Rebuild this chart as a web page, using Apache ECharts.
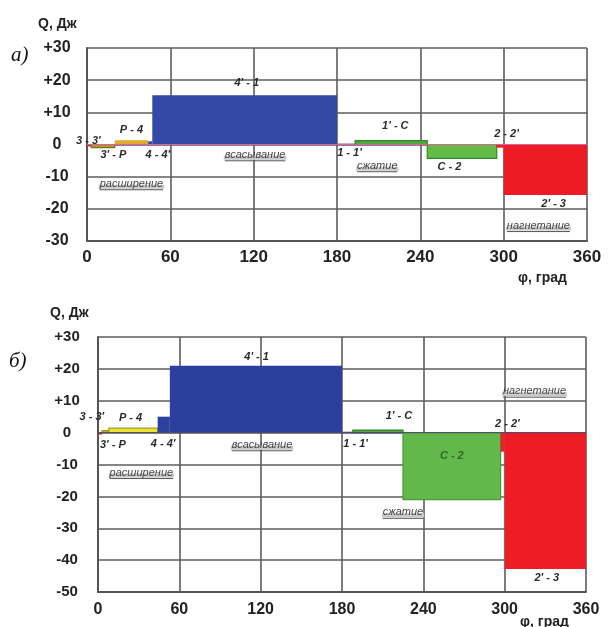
<!DOCTYPE html>
<html><head><meta charset="utf-8">
<script src="https://cdn.jsdelivr.net/npm/echarts@6/dist/echarts.min.js"></script>
<style>html,body{margin:0;padding:0;background:#fff}#c{width:611px;height:627px}</style>
</head><body><div id="c"></div>
<script>
// ---- data ----
const segNames = ["3-3'", "3'-P", "P-4", "4-4'", "4'-1", "1-1'", "1'-C", "C-2", "2-2'", "2'-3"];
const xTicks = [0, 60, 120, 180, 240, 300, 360];
const yTicksA = [-30, -20, -10, 0, 10, 20, 30];
const yTicksB = [-50, -40, -30, -20, -10, 0, 10, 20, 30];
// chart а)
const aStart = [0, 3, 20, 44, 47, 180, 193, 245, 295, 300];
const aEnd   = [3, 20, 44, 47, 180, 193, 245, 295, 300, 360];
const aValue = [-0.6, -1.0, 1.3, 1.0, 15.3, 0.3, 1.2, -4.3, -1.0, -15.7];
// chart б)
const bStart = [0, 3, 8, 44, 53, 180, 188, 225, 297, 300];
const bEnd   = [3, 8, 44, 53, 180, 188, 225, 297, 300, 360];
const bValue = [-0.6, 0.6, 1.4, 5.0, 21.0, 0.3, 0.8, -21.0, -6.0, -42.8];

// ---- styles ----
const colA = {"3-3'":'#c02a2e',"3'-P":'#a99b2c',"P-4":'#e3a92a',"4-4'":'#3849a2',"4'-1":'#3449a3',"1-1'":'#8d4f9c',"1'-C":'#4ea83e',"C-2":'#64bb48',"2-2'":'#e9232a',"2'-3":'#ed1c24'};
const colB = {"3-3'":'#b0302e',"3'-P":'#c9b52a',"P-4":'#ece236',"4-4'":'#2d419e',"4'-1":'#2b3f9c',"1-1'":'#6a5a9a',"1'-C":'#4ea83e',"C-2":'#62b84a',"2-2'":'#e8242a',"2'-3":'#ee1d25'};
const strokeA = {"C-2":'#2f8a2a',"1'-C":'#2f8a2a',"3'-P":'#7d7020'};
const strokeB = {"C-2":'#4a9a3a',"1'-C":'#3a7a30',"3'-P":'#9a8a20',"P-4":'#a09a20'};

// annotation layout (data coords)
const annA = [
 {t:"3 - 3'", x:1, y:1.1, k:'s'}, {t:"P - 4", x:32, y:4.4, k:'s'}, {t:"3' - P", x:19, y:-3.2, k:'s'},
 {t:"4 - 4'", x:51, y:-3.2, k:'s'}, {t:"4' - 1", x:115, y:19, k:'s'}, {t:"всасывание", x:121, y:-3.2, k:'w'},
 {t:"расширение", x:32, y:-12.2, k:'w'}, {t:"1 - 1'", x:189, y:-2.6, k:'s'}, {t:"1' - C", x:222, y:5.9, k:'s'},
 {t:"сжатие", x:209, y:-6.6, k:'w'}, {t:"C - 2", x:261, y:-6.9, k:'s'}, {t:"2 - 2'", x:302, y:3.4, k:'s'},
 {t:"2' - 3", x:336, y:-18.4, k:'s'}, {t:"нагнетание", x:325, y:-25.2, k:'w'}
];
const annB = [
 {t:"3 - 3'", x:-4.5, y:5, k:'s'}, {t:"P - 4", x:24, y:4.7, k:'s'}, {t:"3' - P", x:11, y:-4, k:'s'},
 {t:"4 - 4'", x:48, y:-3.5, k:'s'}, {t:"4' - 1", x:117, y:23.8, k:'s'}, {t:"всасывание", x:121, y:-3.8, k:'w'},
 {t:"расширение", x:32, y:-12.5, k:'w'}, {t:"1 - 1'", x:190, y:-3.5, k:'s'}, {t:"1' - C", x:222, y:5.3, k:'s'},
 {t:"2 - 2'", x:302, y:2.8, k:'s'}, {t:"нагнетание", x:322, y:13, k:'w'}, {t:"C - 2", x:261, y:-7.2, k:'s', c:'#2d6a2a'},
 {t:"сжатие", x:225, y:-25, k:'w'}, {t:"2' - 3", x:331, y:-45.5, k:'s'}
];

const cv = document.createElement('canvas').getContext('2d');
function textW(t, font){ cv.font = font; return cv.measureText(t).width; }

function barSeries(idx, starts, ends, values, cols, strokes){
  return {
    type:'custom', xAxisIndex:idx, yAxisIndex:idx, z:3,
    data: segNames.map((n,i)=>[starts[i], ends[i], values[i], i]),
    renderItem:(p, api)=>{
      const s=api.value(0), e=api.value(1), v=api.value(2), name=segNames[api.value(3)];
      const a=api.coord([s,v]), b=api.coord([e,0]);
      const st = strokes[name];
      return {type:'rect', shape:{x:a[0], y:Math.min(a[1],b[1]), width:b[0]-a[0], height:Math.max(1.5,Math.abs(b[1]-a[1]))},
        style:{fill:cols[name], stroke: st||null, lineWidth: st?1.2:0}};
    }
  };
}
function annSeries(idx, ann){
  return {
    type:'custom', xAxisIndex:idx, yAxisIndex:idx, z:5, clip:false,
    data: ann.map((a,i)=>[a.x, a.y, i]),
    renderItem:(p, api)=>{
      const a = ann[api.value(2)];
      const pt = api.coord([api.value(0), api.value(1)]);
      if (a.k === 's') {
        return {type:'text', x:pt[0], y:pt[1], style:{text:a.t, fill:a.c||'#2a2a2a', font:'italic bold 11px "Liberation Sans", Arial', align:'center', verticalAlign:'middle'}};
      }
      const font = 'italic 11px "Liberation Sans", Arial';
      const w = textW(a.t, font);
      return {type:'group', children:[
        {type:'rect', shape:{x:pt[0]-w/2-1, y:pt[1]+1, width:w+2, height:4}, style:{fill:'#c8c8c8'}},
        {type:'line', shape:{x1:pt[0]-w/2, y1:pt[1]+6, x2:pt[0]+w/2, y2:pt[1]+6}, style:{stroke:'#555', lineWidth:1}},
        {type:'text', x:pt[0], y:pt[1], style:{text:a.t, fill:'#444', font:font, align:'center', verticalAlign:'middle'}}
      ]};
    }
  };
}
function zeroLine(idx, color){
  return {type:'line', xAxisIndex:idx, yAxisIndex:idx, z:4, symbol:'none', silent:true,
    data:[[xTicks[0],0],[xTicks[xTicks.length-1],0]], lineStyle:{color:color, width:1}};
}
const fmtY = v => v>0 ? '+'+v : String(v);
function xAx(idx, fs, margin){
  return {type:'value', gridIndex:idx, min:xTicks[0], max:xTicks[xTicks.length-1], interval:60,
    axisLine:{show:true, onZero:false, lineStyle:{color:'#555', width:2}}, axisTick:{show:false},
    splitLine:{show:true, lineStyle:{color:'#5c5c5c', width:1.6}},
    axisLabel:{fontFamily:'Liberation Sans', fontWeight:'bold', fontSize:fs, color:'#222', margin:margin}};
}
function yAx(idx, ticks, fs, margin){
  return {type:'value', gridIndex:idx, min:ticks[0], max:ticks[ticks.length-1], interval:10,
    axisLine:{show:true, lineStyle:{color:'#555', width:2}}, axisTick:{show:false},
    splitLine:{show:true, lineStyle:{color:'#5c5c5c', width:1.6}},
    axisLabel:{fontFamily:'Liberation Sans', fontWeight:'bold', fontSize:fs, color:'#222', margin:margin, align:'center', formatter:fmtY}};
}

const chart = echarts.init(document.getElementById('c'), null, {renderer:'canvas'});
chart.setOption({
  animation:false,
  backgroundColor:'#fff',
  grid:[
    {left:87, top:48, width:500, height:193},
    {left:98, top:337, width:488, height:255}
  ],
  xAxis:[xAx(0,17,8), xAx(1,16,10)],
  yAxis:[yAx(0,yTicksA,16,30), yAx(1,yTicksB,15,31)],
  graphic:[
    {type:'text', left:38, top:17, style:{text:'Q, Дж', font:'bold 14px "Liberation Sans", Arial', fill:'#222'}},
    {type:'text', left:11, top:45, style:{text:'а)', font:'italic 21px "Liberation Serif", serif', fill:'#111'}},
    {type:'text', left:518, top:271, style:{text:'φ, град', font:'bold 14px "Liberation Sans", Arial', fill:'#222'}},
    {type:'text', left:50, top:306, style:{text:'Q, Дж', font:'bold 14px "Liberation Sans", Arial', fill:'#222'}},
    {type:'text', left:9, top:351, style:{text:'б)', font:'italic 21px "Liberation Serif", serif', fill:'#111'}},
    {type:'text', left:520, top:615, style:{text:'φ, град', font:'bold 14px "Liberation Sans", Arial', fill:'#222'}}
  ],
  series:[
    barSeries(0, aStart, aEnd, aValue, colA, strokeA),
    zeroLine(0, '#d8649a'),
    annSeries(0, annA),
    barSeries(1, bStart, bEnd, bValue, colB, strokeB),
    zeroLine(1, '#4a4a6a'),
    annSeries(1, annB)
  ]
});
</script></body></html>
